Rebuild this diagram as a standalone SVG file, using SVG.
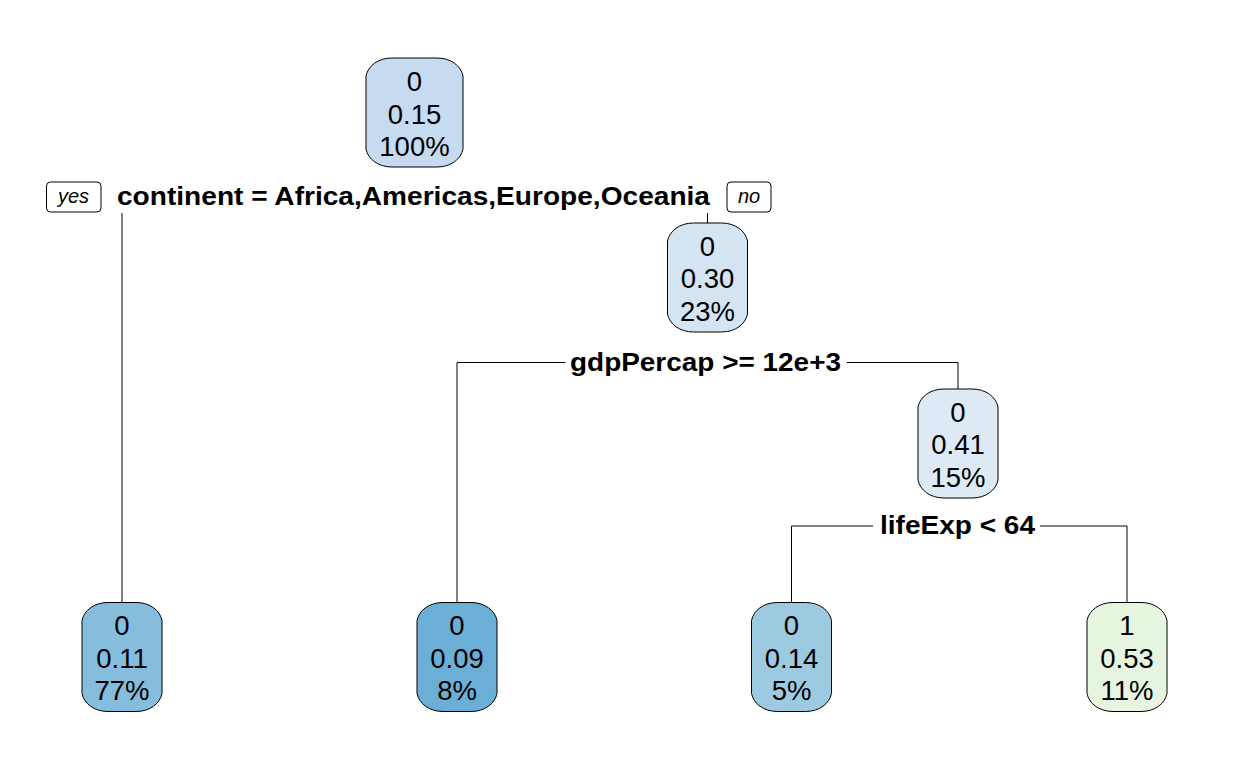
<svg xmlns="http://www.w3.org/2000/svg" width="1248" height="768" viewBox="0 0 1248 768">
<style>
.box{stroke:#000;stroke-width:1}
.nt{font-family:"Liberation Sans",Arial,sans-serif;font-size:27.5px;fill:#000;text-anchor:middle}
.sp{font-family:"Liberation Sans",Arial,sans-serif;font-size:26px;font-weight:bold;fill:#000}
.yn{font-family:"Liberation Sans",Arial,sans-serif;font-size:20px;font-style:italic;fill:#000;text-anchor:middle}
.ynb{fill:#fff;stroke:#000;stroke-width:1}
.edge{fill:none;stroke:#000;stroke-width:1}
</style>
<defs>
<path id="n80" d="M-40,18 C-38,8 -28,0 -14,0 L14,0 C28,0 38,8 40,18 L40,91 C38,101 28,109 14,109 L-14,109 C-28,109 -38,101 -40,91 Z"/>
<path id="n97" d="M-48.5,18 C-46.5,8 -36.5,0 -22.5,0 L22.5,0 C36.5,0 46.5,8 48.5,18 L48.5,91 C46.5,101 36.5,109 22.5,109 L-22.5,109 C-36.5,109 -46.5,101 -48.5,91 Z"/>
</defs>
<rect width="1248" height="768" fill="#fff"/>
<g id="connectors">
<path class="edge" d="M122,213 V603"/>
<path class="edge" d="M707.5,213 V223"/>
<path class="edge" d="M457,602 V362.5 H565.5"/>
<path class="edge" d="M847,362.5 H958 V389"/>
<path class="edge" d="M791.5,602 V526 H873"/>
<path class="edge" d="M1040,526 H1127 V602"/>
</g>
<g id="split-continent">
<text class="sp" x="117" y="205" textLength="593" lengthAdjust="spacingAndGlyphs">continent = Africa,Americas,Europe,Oceania</text>
<rect class="ynb" x="46.5" y="182" width="54.5" height="30" rx="4"/>
<text class="yn" x="73.5" y="203">yes</text>
<rect class="ynb" x="727" y="182" width="44" height="30" rx="4"/>
<text class="yn" x="749" y="203">no</text>
</g>
<g id="split-gdp">
<text class="sp" x="570" y="371" textLength="271" lengthAdjust="spacingAndGlyphs">gdpPercap &gt;= 12e+3</text>
</g>
<g id="split-life">
<text class="sp" x="880" y="534" textLength="155" lengthAdjust="spacingAndGlyphs">lifeExp &lt; 64</text>
</g>
<g id="node1">
<use href="#n97" x="414.5" y="58" class="box" fill="#c6dbef"/>
<text class="nt" x="414.5" y="90.5">0</text>
<text class="nt" x="414.5" y="123.5">0.15</text>
<text class="nt" x="414.5" y="156">100%</text>
</g>
<g id="node3">
<use href="#n80" x="707.5" y="223" class="box" fill="#d3e4f3"/>
<text class="nt" x="707.5" y="255.5">0</text>
<text class="nt" x="707.5" y="288">0.30</text>
<text class="nt" x="707.5" y="320.5">23%</text>
</g>
<g id="node7">
<use href="#n80" x="958" y="389" class="box" fill="#dde9f5"/>
<text class="nt" x="958" y="421.5">0</text>
<text class="nt" x="958" y="454">0.41</text>
<text class="nt" x="958" y="486.5">15%</text>
</g>
<g id="node2">
<use href="#n80" x="122" y="602.5" class="box" fill="#86bcdc"/>
<text class="nt" x="122" y="635">0</text>
<text class="nt" x="122" y="667.5">0.11</text>
<text class="nt" x="122" y="700">77%</text>
</g>
<g id="node6">
<use href="#n80" x="457" y="602.5" class="box" fill="#6baed6"/>
<text class="nt" x="457" y="635">0</text>
<text class="nt" x="457" y="667.5">0.09</text>
<text class="nt" x="457" y="700">8%</text>
</g>
<g id="node14">
<use href="#n80" x="791.5" y="602.5" class="box" fill="#9ecae1"/>
<text class="nt" x="791.5" y="635">0</text>
<text class="nt" x="791.5" y="667.5">0.14</text>
<text class="nt" x="791.5" y="700">5%</text>
</g>
<g id="node15">
<use href="#n80" x="1127" y="602.5" class="box" fill="#e5f5e0"/>
<text class="nt" x="1127" y="635">1</text>
<text class="nt" x="1127" y="667.5">0.53</text>
<text class="nt" x="1127" y="700">11%</text>
</g>
</svg>
